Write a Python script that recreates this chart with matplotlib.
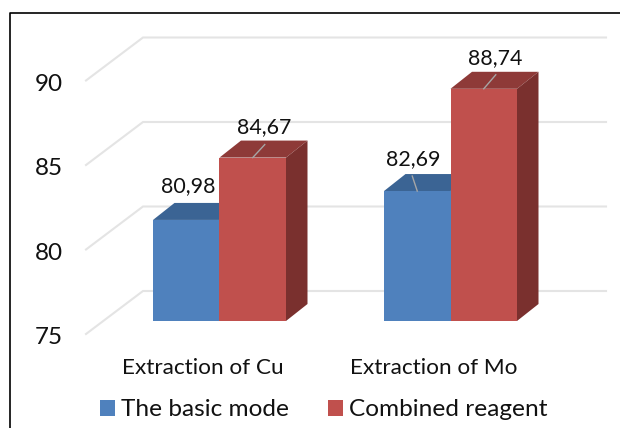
import matplotlib
matplotlib.use('Agg')
import matplotlib.pyplot as plt
from matplotlib.lines import Line2D
from matplotlib.patches import Patch, Polygon

plt.rcParams['font.family'] = ['Lato', 'DejaVu Sans']

categories = ['Extraction of Cu', 'Extraction of Mo']
series_names = ['The basic mode', 'Combined reagent']
basic_mode = [80.98, 82.69]
combined_reagent = [84.67, 88.74]
y_ticks = [75, 80, 85, 90]

BLUE = ('#4F81BD', '#3B6494', '#335680')
RED = ('#C0504D', '#8E3A38', '#7A302E')

# scale of the picture, used to go from pixels to data units
PX_X = 231.0
PX_Y = 16.9
bar_w = 66.5 / PX_X
dx = 21.5 / PX_X
dy = 17 / PX_Y

fig = plt.figure(figsize=(6.2, 4.28), dpi=100)
ax = fig.add_axes([0, 0, 1, 1])
ax.set_xlim(-219.5 / PX_X, 400.5 / PX_X)
ax.set_ylim(75 - 107 / PX_Y, 75 + 321 / PX_Y)
ax.axis('off')


def bar3d(x, v, colors):
    front, top, side = colors
    x2 = x + bar_w
    ax.add_patch(Polygon([(x, 75), (x2, 75), (x2, v), (x, v)], fc=front, ec='none', zorder=4))
    ax.add_patch(Polygon([(x, v), (x2, v), (x2 + dx, v + dy), (x + dx, v + dy)], fc=top, ec='none', zorder=3))
    ax.add_patch(Polygon([(x2, 75), (x2 + dx, 75 + dy), (x2 + dx, v + dy), (x2, v)], fc=side, ec='none', zorder=3))


def value_label(x, v, text_off, leader=None):
    xc = x + bar_w / 2
    ax.annotate(f'{v:.2f}'.replace('.', ','), (xc, v), xytext=text_off, textcoords='offset pixels',
                ha='center', va='center', fontsize=15.4, color='#111111', zorder=6)
    if leader:
        ax.plot([xc, xc + leader[0] / PX_X], [v, v + leader[1] / PX_Y], color='#A6A6A6', lw=1.0, zorder=5)


# floor and wall gridlines
for t in y_ticks:
    ax.plot([-133.5 / PX_X, -76.5 / PX_X, 386.5 / PX_X],
            [t - 13 / PX_Y, t + 30 / PX_Y, t + 30 / PX_Y],
            color='#E4E4E4', lw=1.5, zorder=1, solid_joinstyle='miter')
    ax.text(-170.5 / PX_X, t - 17 / PX_Y, str(t), ha='center', va='center', fontsize=17.5, color='#111111')

for i, cat in enumerate(categories):
    bar3d(i - bar_w, basic_mode[i], BLUE)
    bar3d(i, combined_reagent[i], RED)
    ax.text(i - 16.5 / PX_X, 75 - 46.5 / PX_Y, cat, ha='center', va='center', fontsize=16.2, color='#111111')

value_label(0 - bar_w, basic_mode[0], (2, 34))
value_label(0, combined_reagent[0], (11, 30), (12, 13))
value_label(1 - bar_w, basic_mode[1], (-4, 32), (-5, 15))
value_label(1, combined_reagent[1], (11.5, 31), (12, 14))

handles = [Patch(fc=BLUE[0], ec='none'), Patch(fc=RED[0], ec='none')]
ax.legend(handles, series_names, ncols=2, frameon=False, loc='center', bbox_to_anchor=(324 / 620, 18 / 428),
          fontsize=17.6, handlelength=0.61, handleheight=0.61, handletextpad=0.25,
          columnspacing=1.6, labelcolor='#111111', borderpad=0, borderaxespad=0)

# border of the picture, open at the right and bottom
fig.add_artist(Line2D([9.5 / 620, 9.5 / 620, 1], [0, 415.5 / 428, 415.5 / 428], color='black', lw=1.2))

fig.savefig('out.png', dpi=100)
